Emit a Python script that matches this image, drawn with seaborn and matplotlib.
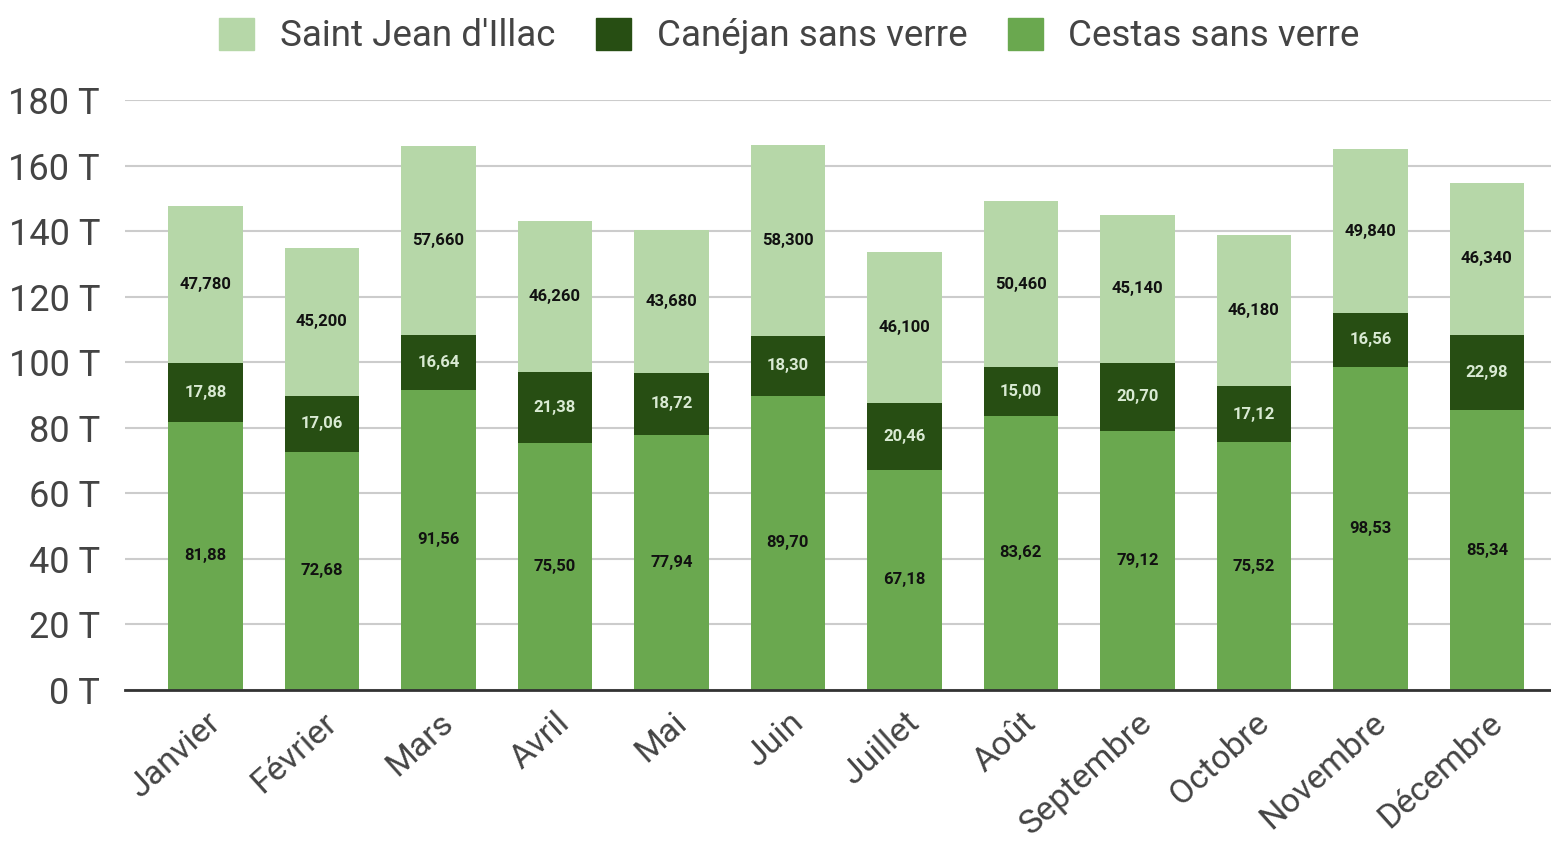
import matplotlib
matplotlib.use("Agg")
import matplotlib.pyplot as plt
import seaborn as sns
import numpy as np

months = ["Janvier", "Février", "Mars", "Avril", "Mai", "Juin", "Juillet",
          "Août", "Septembre", "Octobre", "Novembre", "Décembre"]
cestas = [81.88, 72.68, 91.56, 75.50, 77.94, 89.70, 67.18, 83.62, 79.12, 75.52, 98.53, 85.34]
canejan = [17.88, 17.06, 16.64, 21.38, 18.72, 18.30, 20.46, 15.00, 20.70, 17.12, 16.56, 22.98]
saint_jean = [47.780, 45.200, 57.660, 46.260, 43.680, 58.300, 46.100, 50.460, 45.140, 46.180, 49.840, 46.340]
y_ticks = [0, 20, 40, 60, 80, 100, 120, 140, 160, 180]

c_light = "#b6d7a8"
c_dark = "#274e13"
c_mid = "#6aa84f"

sns.set_style("white")
plt.rcParams["font.family"] = ["Roboto", "DejaVu Sans"]

fig = plt.figure(figsize=(15.51, 8.51), dpi=100)
ax = fig.add_axes([0.0806, 0.1892, 0.9194, 0.6933])

bottom2 = np.array(cestas)
bottom3 = bottom2 + np.array(canejan)
w = 0.64
sns.barplot(x=months, y=cestas, color=c_mid, width=w, saturation=1, linewidth=0, ax=ax)
sns.barplot(x=months, y=canejan, bottom=bottom2, color=c_dark, width=w, saturation=1, linewidth=0, ax=ax)
sns.barplot(x=months, y=saint_jean, bottom=bottom3, color=c_light, width=w, saturation=1, linewidth=0, ax=ax)

# value labels
for i in range(len(months)):
    ax.text(i, cestas[i] / 2, f"{cestas[i]:.2f}".replace(".", ","),
            ha="center", va="center", fontsize=12, fontweight="bold", color="#111111")
    ax.text(i, bottom2[i] + canejan[i] / 2, f"{canejan[i]:.2f}".replace(".", ","),
            ha="center", va="center", fontsize=12, fontweight="bold", color="#d9ead3")
    ax.text(i, bottom3[i] + saint_jean[i] / 2, f"{saint_jean[i]:.3f}".replace(".", ","),
            ha="center", va="center", fontsize=12, fontweight="bold", color="#111111")

ax.set_xlim(-0.69, 11.55)
ax.set_ylim(0, 180)
ax.set_yticks(y_ticks)
ax.set_yticklabels([f"{t} T" for t in y_ticks], fontsize=26, color="#444444")
ax.set_xticks(range(len(months)))
ax.set_xticklabels(months, rotation=42, ha="right", rotation_mode="anchor",
                   fontsize=24.5, color="#444444")
ax.tick_params(axis="y", length=0, pad=18)
ax.tick_params(axis="x", length=0, pad=12)
ax.yaxis.grid(True, color="#cccccc", linewidth=1.5)
ax.set_axisbelow(True)
for s in ["top", "right", "left"]:
    ax.spines[s].set_visible(False)
ax.spines["bottom"].set_color("#333333")
ax.spines["bottom"].set_linewidth(2)
ax.set_xlabel("")
ax.set_ylabel("")

# legend
handles = [plt.Rectangle((0, 0), 1, 1, color=c) for c in (c_light, c_dark, c_mid)]
fig.legend(handles, ["Saint Jean d'Illac", "Canéjan sans verre", "Cestas sans verre"],
           loc="upper center", bbox_to_anchor=(0.509, 1.018), ncol=3, frameon=False,
           fontsize=26.5, labelcolor="#444444", handlelength=0.95, handleheight=0.95,
           columnspacing=1.1, handletextpad=0.7)

fig.savefig("out.png", dpi=100, facecolor="white")
